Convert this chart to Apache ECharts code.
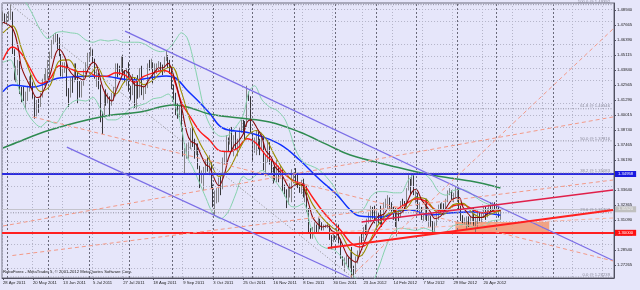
<!DOCTYPE html>
<html><head><meta charset="utf-8">
<script src="https://cdn.jsdelivr.net/npm/echarts@6/dist/echarts.min.js"></script>
<style>html,body{margin:0;padding:0;background:#e6e6fa}#c{width:640px;height:290px}</style>
</head><body><div id="c"></div>
<script>
// ---- data ----
const tickLabels = ['28 Apr 2011','20 May 2011','13 Jun 2011','5 Jul 2011','27 Jul 2011','18 Aug 2011','9 Sep 2011','3 Oct 2011','25 Oct 2011','16 Nov 2011','8 Dec 2011','30 Dec 2011','23 Jan 2012','14 Feb 2012','7 Mar 2012','29 Mar 2012','20 Apr 2012'];
const yTicks = [1.27265,1.28540,1.29815,1.31090,1.32365,1.33640,1.34915,1.36190,1.37465,1.38740,1.40015,1.41290,1.42565,1.43840,1.45115,1.46390,1.47665,1.48940];
const monthStarts = [2,24,46,67,90,112,133,155,177,199,220,242,263,293];
const slotCount = 326;
// [open, high, low, close]
const ohlc = [
[1.4800,1.4880,1.4770,1.4810],[1.4810,1.4865,1.4780,1.4805],[1.4805,1.4860,1.4770,1.4830],[1.4830,1.4885,1.4800,1.4830],[1.4830,1.4940,1.4810,1.4835],
[1.4835,1.4880,1.4520,1.4530],[1.4530,1.4560,1.4300,1.4315],[1.4315,1.4420,1.4280,1.4360],[1.4360,1.4470,1.4340,1.4430],[1.4430,1.4460,1.4180,1.4200],
[1.4200,1.4240,1.4110,1.4190],[1.4190,1.4240,1.4120,1.4120],[1.4120,1.4200,1.4050,1.4150],[1.4150,1.4250,1.4120,1.4230],[1.4230,1.4330,1.4200,1.4320],
[1.4320,1.4345,1.4230,1.4270],[1.4270,1.4280,1.4140,1.4160],[1.4160,1.4160,1.3970,1.4000],[1.4000,1.4130,1.3990,1.4100],[1.4100,1.4140,1.4020,1.4090],
[1.4090,1.4190,1.4070,1.4160],[1.4160,1.4310,1.4150,1.4300],[1.4300,1.4350,1.4250,1.4300],[1.4300,1.4400,1.4230,1.4390],[1.4390,1.4470,1.4310,1.4390],
[1.4390,1.4540,1.4330,1.4500],[1.4500,1.4640,1.4480,1.4640],[1.4640,1.4690,1.4600,1.4660],[1.4660,1.4700,1.4620,1.4670],[1.4670,1.4690,1.4560,1.4600],
[1.4600,1.4660,1.4500,1.4510],[1.4510,1.4520,1.4330,1.4340],[1.4340,1.4450,1.4320,1.4400],[1.4400,1.4450,1.4360,1.4430],[1.4430,1.4450,1.4160,1.4170],
[1.4170,1.4230,1.4070,1.4160],[1.4160,1.4320,1.4150,1.4310],[1.4310,1.4330,1.4190,1.4300],[1.4300,1.4440,1.4280,1.4400],[1.4400,1.4440,1.4300,1.4350],
[1.4350,1.4370,1.4100,1.4230],[1.4230,1.4290,1.4150,1.4190],[1.4190,1.4290,1.4150,1.4280],[1.4280,1.4390,1.4250,1.4370],[1.4370,1.4450,1.4350,1.4430],
[1.4430,1.4530,1.4400,1.4500],[1.4500,1.4530,1.4460,1.4520],[1.4520,1.4580,1.4500,1.4540],[1.4540,1.4560,1.4440,1.4460],[1.4460,1.4480,1.4310,1.4330],
[1.4330,1.4390,1.4240,1.4330],[1.4330,1.4360,1.4220,1.4260],[1.4260,1.4260,1.3940,1.4000],[1.4000,1.4030,1.3840,1.3990],[1.3990,1.4190,1.3980,1.4160],
[1.4160,1.4220,1.4080,1.4150],[1.4150,1.4190,1.4100,1.4150],[1.4150,1.4160,1.3990,1.4120],[1.4120,1.4190,1.4080,1.4160],[1.4160,1.4240,1.4120,1.4220],
[1.4220,1.4440,1.4160,1.4410],[1.4410,1.4440,1.4320,1.4390],[1.4390,1.4420,1.4340,1.4380],[1.4380,1.4500,1.4370,1.4490],[1.4490,1.4510,1.4350,1.4370],
[1.4370,1.4380,1.4280,1.4350],[1.4350,1.4400,1.4250,1.4390],[1.4390,1.4450,1.4200,1.4240],[1.4240,1.4250,1.4130,1.4190],[1.4190,1.4350,1.4170,1.4310],
[1.4310,1.4320,1.4060,1.4080],[1.4080,1.4300,1.4050,1.4280],[1.4280,1.4340,1.4140,1.4180],[1.4180,1.4400,1.4150,1.4390],[1.4390,1.4420,1.4170,1.4180],
[1.4180,1.4250,1.4130,1.4240],[1.4240,1.4260,1.4180,1.4240],[1.4240,1.4440,1.4230,1.4430],[1.4430,1.4470,1.4380,1.4400],[1.4400,1.4480,1.4390,1.4440],
[1.4440,1.4450,1.4270,1.4320],[1.4320,1.4440,1.4310,1.4390],[1.4390,1.4440,1.4350,1.4410],[1.4410,1.4460,1.4370,1.4430],[1.4430,1.4450,1.4370,1.4410],
[1.4410,1.4430,1.4340,1.4380],[1.4380,1.4500,1.4360,1.4480],[1.4480,1.4550,1.4460,1.4500],[1.4500,1.4510,1.4400,1.4450],[1.4450,1.4470,1.4350,1.4370],
[1.4370,1.4410,1.4220,1.4230],[1.4230,1.4260,1.4130,1.4190],[1.4190,1.4190,1.4000,1.4070],[1.4070,1.4100,1.3970,1.4000],[1.4000,1.4080,1.3980,1.4040],
[1.4040,1.4080,1.3860,1.3890],[1.3890,1.3900,1.3650,1.3660],[1.3660,1.3720,1.3500,1.3670],[1.3670,1.3760,1.3630,1.3690],[1.3690,1.3770,1.3630,1.3740],
[1.3740,1.3890,1.3710,1.3860],[1.3860,1.3900,1.3730,1.3800],[1.3800,1.3800,1.3630,1.3680],[1.3680,1.3760,1.3660,1.3710],[1.3710,1.3760,1.3540,1.3560],
[1.3560,1.3570,1.3380,1.3460],[1.3460,1.3530,1.3420,1.3490],[1.3490,1.3560,1.3360,1.3530],[1.3530,1.3620,1.3500,1.3590],[1.3590,1.3640,1.3520,1.3550],
[1.3550,1.3660,1.3490,1.3580],[1.3580,1.3600,1.3380,1.3390],[1.3390,1.3410,1.3220,1.3240],[1.3240,1.3360,1.3150,1.3340],[1.3340,1.3380,1.3250,1.3340],
[1.3340,1.3470,1.3260,1.3420],[1.3420,1.3480,1.3320,1.3370],[1.3370,1.3640,1.3370,1.3620],[1.3620,1.3700,1.3580,1.3620],[1.3620,1.3830,1.3600,1.3790],
[1.3790,1.3810,1.3690,1.3770],[1.3770,1.3890,1.3750,1.3880],[1.3880,1.3900,1.3700,1.3730],[1.3730,1.3830,1.3650,1.3770],[1.3770,1.3860,1.3710,1.3720],
[1.3720,1.3800,1.3650,1.3790],[1.3790,1.3900,1.3720,1.3890],[1.3890,1.3960,1.3850,1.3930],[1.3930,1.3960,1.3850,1.3920],[1.3920,1.3950,1.3790,1.3910],
[1.3910,1.4250,1.3900,1.4190],[1.4190,1.4200,1.4120,1.4140],[1.4140,1.4160,1.3840,1.3850],[1.3850,1.3850,1.3610,1.3690],[1.3690,1.3810,1.3680,1.3760],
[1.3760,1.3870,1.3660,1.3820],[1.3820,1.3860,1.3710,1.3780],[1.3780,1.3800,1.3660,1.3770],[1.3770,1.3850,1.3700,1.3820],[1.3820,1.3830,1.3530,1.3540],
[1.3540,1.3660,1.3480,1.3610],[1.3610,1.3790,1.3600,1.3750],[1.3750,1.3770,1.3580,1.3600],[1.3600,1.3620,1.3500,1.3530],[1.3530,1.3560,1.3420,1.3480],
[1.3480,1.3580,1.3440,1.3470],[1.3470,1.3620,1.3430,1.3520],[1.3520,1.3570,1.3430,1.3480],[1.3480,1.3570,1.3470,1.3530],[1.3530,1.3540,1.3350,1.3360],
[1.3360,1.3410,1.3310,1.3330],[1.3330,1.3370,1.3210,1.3240],[1.3240,1.3390,1.3240,1.3320],[1.3320,1.3420,1.3300,1.3320],[1.3320,1.3540,1.3260,1.3450],
[1.3450,1.3510,1.3420,1.3470],[1.3470,1.3550,1.3430,1.3440],[1.3440,1.3510,1.3380,1.3400],[1.3400,1.3420,1.3340,1.3390],[1.3390,1.3450,1.3330,1.3400],
[1.3400,1.3460,1.3300,1.3340],[1.3340,1.3420,1.3260,1.3380],[1.3380,1.3400,1.3180,1.3180],[1.3180,1.3210,1.3000,1.3020],[1.3020,1.3040,1.2950,1.2990],
[1.2990,1.3050,1.2950,1.3020],[1.3020,1.3090,1.2990,1.3040],[1.3040,1.3070,1.2990,1.3000],[1.3000,1.3130,1.2990,1.3080],[1.3080,1.3120,1.3030,1.3070],
[1.3070,1.3090,1.3020,1.3050],[1.3050,1.3070,1.3020,1.3050],[1.3050,1.3070,1.3040,1.3060],[1.3060,1.3090,1.3040,1.3060],[1.3060,1.3070,1.2940,1.2960],
[1.2960,1.2980,1.2860,1.2940],[1.2940,1.2990,1.2920,1.2960],[1.2960,1.2980,1.2940,1.2950],[1.2950,1.3080,1.2940,1.3060],[1.3060,1.3070,1.2910,1.2940],
[1.2940,1.2950,1.2780,1.2790],[1.2790,1.2800,1.2720,1.2720],[1.2720,1.2790,1.2670,1.2770],[1.2770,1.2810,1.2730,1.2780],[1.2780,1.2790,1.2690,1.2710],
[1.2710,1.2840,1.2700,1.2830],[1.2830,1.2880,1.2620,1.2680],[1.2680,1.2720,1.2620,1.2660],[1.2660,1.2800,1.2650,1.2770],[1.2770,1.2850,1.2740,1.2830],
[1.2830,1.2970,1.2810,1.2950],[1.2950,1.2990,1.2900,1.2940],[1.2940,1.3050,1.2930,1.3040],[1.3040,1.3070,1.2980,1.3030],[1.3030,1.3120,1.2990,1.3100],
[1.3100,1.3170,1.3080,1.3130],[1.3130,1.3230,1.3090,1.3210],[1.3210,1.3220,1.3120,1.3140],[1.3140,1.3230,1.3080,1.3080],[1.3080,1.3190,1.3050,1.3160],
[1.3160,1.3170,1.3080,1.3150],[1.3150,1.3230,1.3070,1.3140],[1.3140,1.3150,1.3050,1.3110],[1.3110,1.3260,1.3100,1.3250],[1.3250,1.3290,1.3210,1.3270],
[1.3270,1.3320,1.3200,1.3280],[1.3280,1.3300,1.3190,1.3200],[1.3200,1.3260,1.3180,1.3190],[1.3190,1.3220,1.3110,1.3140],[1.3140,1.3210,1.3050,1.3060],
[1.3060,1.3160,1.2970,1.3150],[1.3150,1.3190,1.3100,1.3140],[1.3140,1.3270,1.3130,1.3250],[1.3250,1.3290,1.3210,1.3240],[1.3240,1.3270,1.3200,1.3230],
[1.3230,1.3380,1.3220,1.3370],[1.3370,1.3490,1.3360,1.3450],[1.3450,1.3460,1.3330,1.3420],[1.3420,1.3490,1.3400,1.3460],[1.3460,1.3490,1.3320,1.3330],
[1.3330,1.3360,1.3250,1.3330],[1.3330,1.3340,1.3180,1.3200],[1.3200,1.3260,1.3160,1.3220],[1.3220,1.3220,1.3110,1.3130],[1.3130,1.3160,1.3100,1.3130],
[1.3130,1.3290,1.3110,1.3280],[1.3280,1.3290,1.3100,1.3120],[1.3120,1.3160,1.3050,1.3140],[1.3140,1.3150,1.3050,1.3080],[1.3080,1.3100,1.3000,1.3040],
[1.3040,1.3090,1.3000,1.3070],[1.3070,1.3170,1.3060,1.3170],[1.3170,1.3240,1.3110,1.3230],[1.3230,1.3250,1.3160,1.3210],[1.3210,1.3260,1.3200,1.3240],
[1.3240,1.3250,1.3150,1.3190],[1.3190,1.3290,1.3180,1.3270],[1.3270,1.3360,1.3260,1.3340],[1.3340,1.3380,1.3320,1.3350],[1.3350,1.3360,1.3280,1.3310],
[1.3310,1.3340,1.3260,1.3310],[1.3310,1.3390,1.3300,1.3340],[1.3340,1.3360,1.3290,1.3340],[1.3340,1.3380,1.3200,1.3220],[1.3220,1.3230,1.3100,1.3110],
[1.3110,1.3150,1.3070,1.3070],[1.3070,1.3130,1.3060,1.3100],[1.3100,1.3140,1.3030,1.3130],[1.3130,1.3140,1.3050,1.3100],[1.3100,1.3140,1.3070,1.3130],
[1.3130,1.3210,1.3100,1.3170],[1.3170,1.3210,1.3060,1.3080],[1.3080,1.3140,1.3000,1.3140],[1.3140,1.3190,1.3050,1.3160],[1.3160,1.3170,1.3090,1.3110],
[1.3110,1.3170,1.3090,1.3150],[1.3150,1.3220,1.3130,1.3210],[1.3210,1.3220,1.3110,1.3150],[1.3150,1.3210,1.3130,1.3190],[1.3190,1.3240,1.3160,1.3230],
[1.3230,1.3260,1.3180,1.3200],[1.3200,1.3260,1.3190,1.3240],[1.3240,1.3260,1.3200,1.3230],[1.3230,1.3250,1.3190,1.3200],[1.3200,1.3230,1.3130,1.3150],
[1.3150,1.3190,1.3110,1.3160]
];
// indicator lines: [barIndex, price]
const maBlue = [[0,1.4200],[5,1.4257],[16,1.4240],[30,1.4316],[52,1.4333],[69,1.4299],[78,1.4316],[87,1.4333],[92,1.4316],[98,1.4214],[105,1.4104],[110,1.4019],[117,1.3891],[129,1.3857],[137,1.3823],[148,1.3747],[158,1.3619],[169,1.3449],[178,1.3322],[185,1.3194],[190,1.3143],[202,1.3135],[211,1.3186],[217,1.3194],[227,1.3152],[238,1.3169],[249,1.3177],[265,1.3150]];
const maGreen = [[0,1.3721],[4,1.3747],[25,1.3874],[52,1.3985],[73,1.4027],[91,1.4087],[100,1.4061],[110,1.4010],[126,1.3976],[142,1.3942],[158,1.3857],[173,1.3747],[185,1.3661],[205,1.3577],[228,1.3491],[249,1.3440],[265,1.3381]];
const maRed = [[0,1.4470],[5,1.4580],[10,1.4520],[15,1.4380],[20,1.4270],[25,1.4310],[30,1.4420],[35,1.4400],[40,1.4370],[45,1.4370],[50,1.4330],[55,1.4330],[60,1.4360],[65,1.4340],[70,1.4280],[75,1.4330],[80,1.4360],[85,1.4380],[90,1.4340],[95,1.4110],[100,1.3980],[105,1.3860],[110,1.3790],[115,1.3700],[120,1.3690],[125,1.3720],[130,1.3800],[135,1.3760],[140,1.3660],[145,1.3590],[150,1.3500],[155,1.3440],[160,1.3410],[165,1.3300],[170,1.3190],[175,1.3100],[180,1.3020],[185,1.2920],[190,1.2880],[195,1.2920],[200,1.3030],[205,1.3130],[210,1.3200],[215,1.3250],[220,1.3290],[225,1.3270],[230,1.3200],[235,1.3190],[240,1.3230],[245,1.3240],[250,1.3200],[255,1.3170],[260,1.3180],[265,1.3190]];
const maDarkRed = [[0,1.4790],[5,1.4740],[8,1.4580],[10,1.4400],[15,1.4230],[18,1.4150],[20,1.4160],[25,1.4340],[28,1.4520],[30,1.4560],[33,1.4490],[35,1.4390],[38,1.4330],[40,1.4320],[43,1.4300],[45,1.4380],[48,1.4450],[50,1.4420],[53,1.4240],[55,1.4170],[58,1.4120],[60,1.4200],[63,1.4320],[65,1.4380],[68,1.4330],[70,1.4260],[73,1.4250],[75,1.4240],[78,1.4310],[80,1.4350],[83,1.4400],[85,1.4400],[88,1.4440],[90,1.4380],[93,1.4220],[95,1.4080],[98,1.3850],[100,1.3780],[103,1.3750],[105,1.3680],[108,1.3580],[110,1.3560],[112,1.3480],[115,1.3400],[118,1.3500],[120,1.3630],[123,1.3740],[125,1.3770],[128,1.3840],[130,1.3940],[132,1.3960],[135,1.3900],[138,1.3810],[140,1.3700],[143,1.3640],[145,1.3560],[148,1.3510],[150,1.3450],[153,1.3380],[155,1.3400],[158,1.3420],[160,1.3390],[163,1.3240],[165,1.3130],[168,1.3070],[170,1.3050],[173,1.3060],[175,1.3020],[178,1.2990],[180,1.2930],[183,1.2820],[185,1.2780],[188,1.2750],[190,1.2820],[193,1.2940],[195,1.3030],[198,1.3110],[200,1.3140],[203,1.3160],[205,1.3200],[208,1.3200],[210,1.3160],[213,1.3180],[215,1.3250],[218,1.3350],[220,1.3370],[223,1.3280],[225,1.3240],[228,1.3170],[230,1.3120],[233,1.3140],[235,1.3180],[238,1.3260],[240,1.3290],[243,1.3300],[245,1.3220],[248,1.3160],[250,1.3130],[253,1.3130],[255,1.3130],[258,1.3160],[260,1.3180],[263,1.3200],[265,1.3190]];
const maOlive = [[0,1.4700],[5,1.4760],[10,1.4560],[15,1.4340],[20,1.4200],[25,1.4250],[30,1.4460],[35,1.4470],[40,1.4360],[45,1.4330],[50,1.4410],[55,1.4260],[60,1.4180],[65,1.4290],[70,1.4320],[75,1.4260],[80,1.4300],[85,1.4380],[90,1.4410],[95,1.4200],[100,1.3940],[105,1.3760],[110,1.3620],[115,1.3480],[120,1.3530],[125,1.3680],[130,1.3820],[135,1.3870],[140,1.3800],[145,1.3650],[150,1.3520],[155,1.3430],[160,1.3390],[165,1.3240],[170,1.3130],[175,1.3050],[180,1.2990],[185,1.2850],[190,1.2800],[195,1.2920],[200,1.3070],[205,1.3160],[210,1.3180],[215,1.3210],[220,1.3300],[225,1.3290],[230,1.3190],[235,1.3160],[240,1.3240],[245,1.3250],[250,1.3170],[255,1.3130],[260,1.3160],[265,1.3190]];
const bandUpper = [[0,1.5050],[4,1.5000],[8,1.4990],[12,1.4960],[16,1.4850],[20,1.4720],[24,1.4650],[28,1.4700],[32,1.4710],[36,1.4700],[40,1.4690],[44,1.4640],[48,1.4620],[52,1.4640],[56,1.4630],[60,1.4640],[64,1.4620],[68,1.4620],[72,1.4620],[76,1.4600],[80,1.4560],[84,1.4540],[88,1.4560],[92,1.4640],[95,1.4700],[98,1.4660],[101,1.4500],[104,1.4280],[108,1.4000],[112,1.3870],[116,1.3820],[120,1.3830],[124,1.3900],[128,1.4000],[131,1.4200],[134,1.4250],[138,1.4130],[142,1.4070],[146,1.4040],[150,1.3970],[153,1.3850],[156,1.3700],[160,1.3600],[164,1.3570],[168,1.3540],[172,1.3480],[176,1.3400],[180,1.3290],[184,1.3210],[188,1.3170],[192,1.3200],[196,1.3310],[200,1.3350],[204,1.3350],[208,1.3340],[212,1.3340],[216,1.3450],[220,1.3500],[224,1.3500],[228,1.3450],[232,1.3350],[236,1.3320],[240,1.3360],[244,1.3370],[248,1.3350],[252,1.3300],[256,1.3260],[260,1.3240],[265,1.3240]];
const bandLower = [[0,1.4450],[4,1.4470],[8,1.4250],[12,1.4050],[16,1.3950],[20,1.3900],[24,1.3950],[28,1.3930],[32,1.4020],[36,1.4100],[40,1.4130],[44,1.4120],[48,1.4150],[52,1.4050],[56,1.3960],[60,1.3960],[64,1.4000],[68,1.4060],[72,1.4080],[76,1.4100],[80,1.4140],[84,1.4150],[88,1.4180],[92,1.4070],[95,1.3900],[98,1.3650],[101,1.3560],[104,1.3450],[108,1.3300],[112,1.3160],[116,1.3120],[120,1.3180],[124,1.3330],[128,1.3480],[131,1.3450],[134,1.3480],[138,1.3530],[142,1.3480],[146,1.3420],[150,1.3320],[153,1.3230],[156,1.3220],[160,1.3250],[164,1.3050],[168,1.2910],[172,1.2870],[176,1.2860],[180,1.2800],[184,1.2700],[188,1.2610],[192,1.2580],[196,1.2570],[200,1.2700],[204,1.2880],[208,1.3010],[212,1.3040],[216,1.3030],[220,1.3020],[224,1.3040],[228,1.3020],[232,1.3000],[236,1.3010],[240,1.3060],[244,1.3070],[248,1.3060],[252,1.3040],[256,1.3060],[260,1.3100],[265,1.3110]];
// drawn objects: [barIndex, price]
const channelUpper = [[65,1.4715],[325,1.2765]];
const channelLower = [[34,1.3729],[185,1.2616]];
const fibBase = [[4,1.49392],[186,1.26239]];
const fibLevels = [1.49392,1.40546,1.37816,1.35083,1.31703,1.26239];
const fibNames = ['100.0','61.8','50.0','38.2','23.6','0.0'];
const fanSteep = [[185,1.2624],[325,1.4733]];
const fanFall = [[16,1.3985],[325,1.2761]];
const fanRise1 = [[0,1.3058],[325,1.3985]];
const fanRise2 = [[5,1.2807],[325,1.3449]];
const fanRise3 = [[174,1.3005],[325,1.3126]];
const redLineLow = [[173,1.2871],[325,1.3194]];
const redLineUp = [[191,1.3092],[325,1.3364]];
const zoneBox = [[241,1.3092],[291,1.2998]];
const levelBlue = 1.34958;
const levelRed = 1.30000;
const bidPrice = 1.31520;

// ---- chart ----
const cats = Array.from({length: slotCount}, (_, i) => String(i));
const tickShow = i => i % 16 === 0 && i / 16 < tickLabels.length;
const FONT = 'Liberation Sans';
const seg = (pts, color, width, type, z, smooth) => ({
  type: 'line', data: pts, symbol: 'none', showSymbol: false, silent: true, animation: false,
  smooth: smooth || false, lineStyle: {color, width, type: type || 'solid'}, z: z || 5
});
const salmon = '#f39a88';
const series = [];
series.push({
  type: 'candlestick', animation: false, silent: true, barWidth: 1.2, z: 2,
  data: ohlc.map(r => [r[0], r[3], r[2], r[1]]),
  itemStyle: {color: '#8c8c8c', color0: '#0a0a0a', borderColor: '#6a6a6a', borderColor0: '#0a0a0a', borderWidth: 0.8},
  markLine: {
    silent: true, symbol: 'none', animation: false, label: {show: false},
    data: yTicks.map(v => ({yAxis: v, lineStyle: {color: '#b4b4c8', type: [1, 2], width: 1}}))
      .concat(monthStarts.map(i => ({xAxis: i, lineStyle: {color: '#6a6a7a', type: [2, 2], width: 1}})))
  }
});
series.push(seg(bandUpper, '#86d2ae', 1, 'solid', 3, 0.3));
series.push(seg(bandLower, '#86d2ae', 1, 'solid', 3, 0.3));
series.push(seg(maGreen, '#2e8b50', 1.5, 'solid', 4, 0.4));
series.push(seg(maBlue, '#1030ff', 1.5, 'solid', 4, 0.4));
series.push(seg(maRed, '#ff1a1a', 1.4, 'solid', 4, 0.35));
series.push(seg(maOlive, '#9a8c00', 1.1, 'solid', 4, 0.35));
series.push(seg(maDarkRed, '#8b0a0a', 1.1, 'solid', 4, 0.35));
series.push(seg(channelUpper, '#7b6ee6', 1.3, 'solid', 5));
series.push(seg(channelLower, '#7b6ee6', 1.3, 'solid', 5));
series.push(seg(fibBase, '#8a8a8a', 1, [1, 2], 5));
fibLevels.forEach((v, k) => {
  const s = seg([[fibBase[0][0], v], [slotCount - 1, v]], '#9090a0', 1, [1, 1.5], 5);
  s.markPoint = {
    silent: true, animation: false, symbol: 'circle', symbolSize: 0.1,
    data: [{coord: [slotCount - 1, v], itemStyle: {color: 'rgba(0,0,0,0)'},
      label: {show: true, formatter: fibNames[k] + ' @ ' + v.toFixed(5), position: 'left',
        align: 'right', verticalAlign: 'bottom', offset: [0, -0.5], distance: 3,
        fontSize: 4.2, color: '#8a8a9a', fontFamily: FONT}}]
  };
  series.push(s);
});
series.push(seg(fanSteep, salmon, 1, [4, 3], 5));
series.push(seg(fanFall, salmon, 1, [4, 3], 5));
series.push(seg(fanRise1, salmon, 1, [4, 3], 5));
series.push(seg(fanRise2, salmon, 1, [4, 3], 5));
series.push(seg(fanRise3, '#f6b4a6', 1, [4, 3], 5));
const boxSeries = seg(redLineLow, '#ff2020', 1.8, 'solid', 6);
boxSeries.markArea = {silent: true, animation: false, itemStyle: {color: 'rgba(242,150,110,0.85)'},
  data: [[{coord: zoneBox[0]}, {coord: zoneBox[1]}]]};
series.push(boxSeries);
series.push(seg(redLineUp, '#e0204a', 1.4, 'solid', 6));
const levels = seg([], '#000', 1, 'solid', 7);
levels.markLine = {
  silent: true, symbol: 'none', animation: false,
  data: [
    {yAxis: bidPrice, lineStyle: {color: '#c4c4cc', width: 1, type: 'solid'},
     label: {show: true, position: 'end', distance: 1, formatter: bidPrice.toFixed(5), backgroundColor: '#c0c0c0', color: '#f4f4f4', padding: [1, 3], fontSize: 4.2, fontFamily: FONT}},
    {yAxis: levelBlue, lineStyle: {color: '#2a2ae0', width: 2, type: 'solid'},
     label: {show: true, position: 'end', distance: 1, formatter: levelBlue.toFixed(5), backgroundColor: '#1818e0', color: '#ffffff', padding: [1, 3], fontSize: 4.2, fontFamily: FONT}},
    {yAxis: levelRed, lineStyle: {color: '#ff2020', width: 2, type: 'solid'},
     label: {show: true, position: 'end', distance: 1, formatter: levelRed.toFixed(5), backgroundColor: '#ff1010', color: '#ffffff', padding: [1, 3], fontSize: 4.2, fontFamily: FONT}}
  ]
};
series.push(levels);

const chart = echarts.init(document.getElementById('c'), null, {renderer: 'canvas'});
chart.setOption({
  backgroundColor: '#e6e6fa',
  animation: false,
  grid: {left: 2, right: 26, top: 3, bottom: 12, show: true, borderColor: '#6a6a7a', borderWidth: 1},
  xAxis: {
    type: 'category', data: cats, boundaryGap: true,
    axisLine: {show: true, lineStyle: {color: '#505060', width: 1}},
    axisTick: {show: true, alignWithLabel: true, interval: tickShow, length: 2, lineStyle: {color: '#505060'}},
    axisLabel: {interval: tickShow, formatter: (v, i) => tickLabels[i / 16] || '', align: 'left',
      fontSize: 4.2, margin: 3, color: '#202020', fontFamily: FONT},
    splitLine: {show: true, interval: i => i % 16 === 0, lineStyle: {color: '#b4b4c8', type: [1, 2], width: 1}}
  },
  yAxis: {
    type: 'value', position: 'right', min: 1.2616, max: 1.49535, scale: true,
    axisLine: {show: true, lineStyle: {color: '#505060', width: 1}},
    axisTick: {show: true, length: 2, customValues: yTicks, lineStyle: {color: '#505060'}},
    axisLabel: {customValues: yTicks, formatter: v => v.toFixed(5), fontSize: 4.2, margin: 3, color: '#202020', fontFamily: FONT},
    splitLine: {show: false}
  },
  graphic: [{type: 'text', left: 3, top: 270, silent: true,
    style: {text: 'RoboForex - MetaTrader 5, © 2001-2012 MetaQuotes Software Corp.', fontSize: 4.2, fill: '#202020', fontFamily: FONT}}],
  series
});
</script></body></html>
